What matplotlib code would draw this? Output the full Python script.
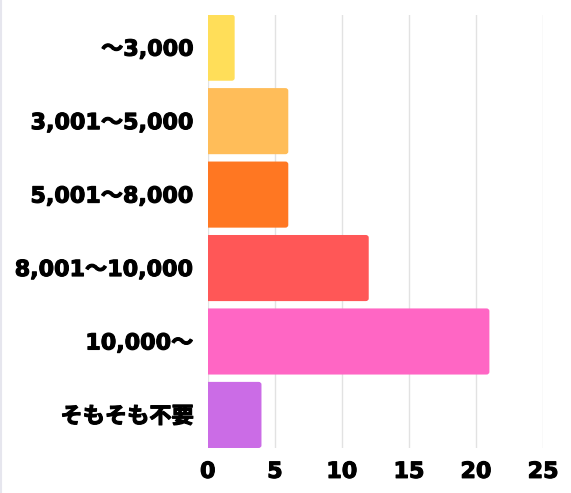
import matplotlib
matplotlib.use("Agg")
import matplotlib.pyplot as plt
import matplotlib.patheffects as pe
from matplotlib.lines import Line2D
from matplotlib.patches import FancyBboxPatch

plt.rcParams['font.family'] = ['DejaVu Sans', 'Noto Sans CJK JP']

# データ
categories = ["～3,000", "3,001～5,000", "5,001～8,000", "8,001～10,000", "10,000～", "そもそも不要"]
values = [2, 6, 6, 12, 21, 4]
colors = ["#FFDE59", "#FFBD59", "#FF7722", "#FF5757", "#FF66C4", "#CB6CE6"]
xticks = [0, 5, 10, 15, 20, 25]

fig = plt.figure(figsize=(5.71, 4.93), dpi=100)
ax = fig.add_axes([0.364, 0.0913, 0.587, 0.879])

bars = ax.barh(range(len(categories)), values, height=0.9, color=colors)

# 右端だけ少し丸める（左側は軸でクリップ）
for b in bars:
    b.set_visible(False)
    x, y = b.get_x(), b.get_y()
    w, h = b.get_width(), b.get_height()
    ax.add_patch(FancyBboxPatch((x - 1, y), w + 1, h,
                                boxstyle="round,pad=0,rounding_size=0.22",
                                mutation_aspect=0.9 / 5.5,
                                facecolor=b.get_facecolor(), edgecolor="none",
                                zorder=3))

ax.set_xlim(0, 25)
ax.set_ylim(len(categories) - 0.55, -0.45)
ax.set_xticks(xticks)
ax.set_yticks(range(len(categories)))
ax.set_yticklabels(categories)
ax.tick_params(length=0, labelsize=16)
ax.tick_params(axis="y", pad=10)
ax.tick_params(axis="x", pad=10)
for lab in ax.get_xticklabels() + ax.get_yticklabels():
    lab.set_fontweight("bold")
    lab.set_path_effects([pe.withStroke(linewidth=0.8, foreground="black")])

ax.grid(axis="x", color="#e2e2e2", linewidth=1, zorder=0)
ax.set_axisbelow(True)
for s in ax.spines.values():
    s.set_visible(False)

fig.add_artist(Line2D([0.002, 0.002], [0, 1], color="#e6e6ee", linewidth=1.5))

fig.savefig("out.png", dpi=100)
